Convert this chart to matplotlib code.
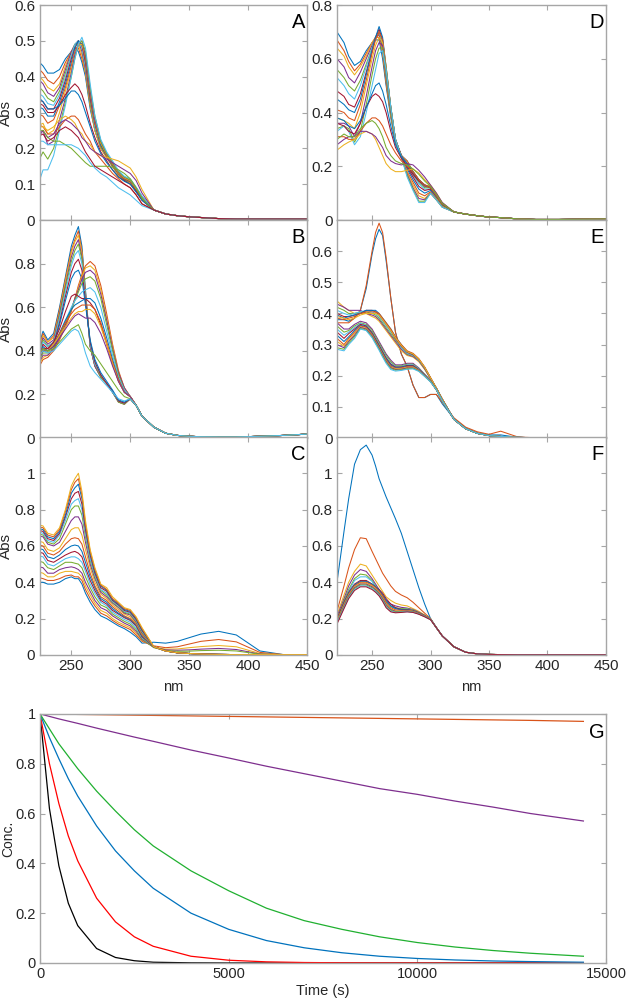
import numpy as np
import matplotlib.pyplot as plt
from matplotlib.ticker import FuncFormatter
from cycler import cycler

plt.rcParams['font.family'] = ['Liberation Sans', 'DejaVu Sans']
MATLAB_COLORS = ['#0072BD', '#D95319', '#EDB120', '#7E2F8E', '#77AC30', '#4DBEEE', '#A2142F']
plt.rcParams['axes.prop_cycle'] = cycler(color=MATLAB_COLORS)

# wavelength grid (nm): dense part up to 310, sparse tail after
WL_HEAD = [220, 226, 230, 235, 240, 245, 250, 253, 256, 259, 262, 266, 270,
           275, 280, 285, 290, 295, 300, 305, 310]
WL_TAIL = [320, 330, 340, 350, 360, 375, 390, 410, 430, 450]

# ---- panel A ----
A_SPECTRA = [
    [0.45, 0.43, 0.41, 0.41, 0.42, 0.45, 0.47, 0.48, 0.47, 0.44, 0.40, 0.31, 0.25, 0.20, 0.175, 0.15, 0.125, 0.11, 0.105, 0.08, 0.06],
    [0.43, 0.41, 0.39, 0.38, 0.40, 0.44, 0.47, 0.48, 0.48, 0.45, 0.41, 0.32, 0.25, 0.20, 0.175, 0.15, 0.125, 0.11, 0.105, 0.08, 0.06],
    [0.41, 0.39, 0.37, 0.36, 0.38, 0.43, 0.47, 0.49, 0.49, 0.46, 0.41, 0.32, 0.25, 0.20, 0.175, 0.15, 0.125, 0.11, 0.105, 0.08, 0.06],
    [0.40, 0.38, 0.355, 0.345, 0.37, 0.42, 0.47, 0.49, 0.50, 0.47, 0.42, 0.33, 0.26, 0.205, 0.178, 0.15, 0.13, 0.112, 0.107, 0.082, 0.06],
    [0.38, 0.36, 0.34, 0.33, 0.36, 0.41, 0.46, 0.49, 0.50, 0.48, 0.43, 0.33, 0.26, 0.205, 0.178, 0.15, 0.13, 0.112, 0.107, 0.082, 0.06],
    [0.36, 0.345, 0.325, 0.32, 0.35, 0.40, 0.46, 0.49, 0.50, 0.48, 0.43, 0.34, 0.26, 0.21, 0.18, 0.155, 0.13, 0.115, 0.108, 0.085, 0.062],
    [0.34, 0.33, 0.31, 0.31, 0.34, 0.39, 0.45, 0.48, 0.50, 0.49, 0.44, 0.34, 0.27, 0.21, 0.18, 0.155, 0.13, 0.115, 0.108, 0.085, 0.062],
    [0.32, 0.31, 0.29, 0.29, 0.33, 0.38, 0.44, 0.48, 0.50, 0.49, 0.45, 0.35, 0.27, 0.21, 0.18, 0.155, 0.13, 0.115, 0.11, 0.085, 0.062],
    [0.30, 0.29, 0.27, 0.28, 0.32, 0.37, 0.43, 0.47, 0.49, 0.49, 0.45, 0.35, 0.27, 0.215, 0.18, 0.155, 0.13, 0.115, 0.11, 0.085, 0.062],
    [0.26, 0.27, 0.24, 0.25, 0.30, 0.36, 0.42, 0.46, 0.49, 0.49, 0.46, 0.36, 0.28, 0.215, 0.183, 0.158, 0.132, 0.118, 0.11, 0.088, 0.064],
    [0.22, 0.25, 0.21, 0.22, 0.28, 0.34, 0.41, 0.46, 0.49, 0.50, 0.46, 0.36, 0.28, 0.22, 0.185, 0.16, 0.134, 0.12, 0.112, 0.09, 0.065],
    [0.15, 0.19, 0.17, 0.20, 0.26, 0.33, 0.40, 0.45, 0.49, 0.50, 0.47, 0.37, 0.29, 0.22, 0.185, 0.16, 0.135, 0.12, 0.112, 0.09, 0.065],
    [0.08, 0.14, 0.14, 0.18, 0.25, 0.32, 0.40, 0.45, 0.49, 0.51, 0.48, 0.38, 0.29, 0.225, 0.19, 0.165, 0.138, 0.122, 0.115, 0.092, 0.067],
    [0.33, 0.32, 0.30, 0.30, 0.32, 0.35, 0.37, 0.38, 0.37, 0.35, 0.32, 0.27, 0.23, 0.19, 0.165, 0.14, 0.12, 0.11, 0.10, 0.08, 0.055],
    [0.35, 0.33, 0.31, 0.31, 0.32, 0.34, 0.36, 0.36, 0.35, 0.33, 0.30, 0.26, 0.22, 0.185, 0.16, 0.14, 0.12, 0.108, 0.10, 0.078, 0.055],
    [0.27, 0.26, 0.24, 0.24, 0.26, 0.28, 0.29, 0.29, 0.28, 0.26, 0.24, 0.22, 0.19, 0.17, 0.15, 0.13, 0.115, 0.10, 0.09, 0.07, 0.045],
    [0.26, 0.26, 0.25, 0.26, 0.28, 0.29, 0.28, 0.27, 0.25, 0.24, 0.22, 0.21, 0.19, 0.18, 0.175, 0.17, 0.165, 0.155, 0.145, 0.12, 0.085],
    [0.24, 0.25, 0.23, 0.24, 0.27, 0.28, 0.27, 0.26, 0.25, 0.23, 0.22, 0.20, 0.19, 0.18, 0.17, 0.16, 0.15, 0.14, 0.13, 0.11, 0.075],
    [0.25, 0.25, 0.23, 0.22, 0.22, 0.21, 0.20, 0.19, 0.18, 0.17, 0.16, 0.15, 0.15, 0.15, 0.15, 0.148, 0.14, 0.13, 0.115, 0.09, 0.06],
    [0.22, 0.22, 0.21, 0.21, 0.21, 0.21, 0.21, 0.205, 0.20, 0.19, 0.18, 0.16, 0.145, 0.13, 0.12, 0.105, 0.09, 0.08, 0.07, 0.055, 0.04],
    [0.23, 0.24, 0.22, 0.23, 0.25, 0.26, 0.25, 0.24, 0.23, 0.21, 0.19, 0.17, 0.15, 0.14, 0.13, 0.12, 0.11, 0.10, 0.09, 0.07, 0.045],
]
A_TAIL = [0.028, 0.017, 0.012, 0.009, 0.007, 0.004, 0.003, 0.003, 0.003, 0.003]

# ---- panel B ----
B_SPECTRA = [
    [0.38, 0.49, 0.45, 0.48, 0.60, 0.74, 0.88, 0.93, 0.97, 0.88, 0.68, 0.42, 0.33, 0.28, 0.25, 0.21, 0.17, 0.16, 0.18, 0.15, 0.10],
    [0.37, 0.48, 0.44, 0.47, 0.59, 0.73, 0.86, 0.91, 0.95, 0.86, 0.67, 0.42, 0.33, 0.28, 0.25, 0.21, 0.17, 0.16, 0.18, 0.15, 0.10],
    [0.36, 0.47, 0.44, 0.46, 0.58, 0.72, 0.85, 0.90, 0.93, 0.85, 0.66, 0.42, 0.33, 0.28, 0.25, 0.21, 0.165, 0.155, 0.18, 0.15, 0.10],
    [0.35, 0.46, 0.43, 0.45, 0.57, 0.70, 0.83, 0.88, 0.91, 0.83, 0.65, 0.42, 0.33, 0.28, 0.25, 0.21, 0.165, 0.155, 0.18, 0.15, 0.10],
    [0.34, 0.45, 0.42, 0.44, 0.56, 0.69, 0.81, 0.86, 0.89, 0.82, 0.65, 0.43, 0.34, 0.28, 0.25, 0.21, 0.165, 0.155, 0.18, 0.15, 0.10],
    [0.33, 0.44, 0.42, 0.44, 0.55, 0.67, 0.79, 0.84, 0.86, 0.80, 0.64, 0.43, 0.34, 0.29, 0.25, 0.21, 0.17, 0.16, 0.18, 0.15, 0.10],
    [0.32, 0.43, 0.41, 0.43, 0.53, 0.65, 0.76, 0.80, 0.82, 0.77, 0.63, 0.44, 0.35, 0.29, 0.25, 0.215, 0.17, 0.16, 0.18, 0.15, 0.10],
    [0.31, 0.42, 0.40, 0.42, 0.52, 0.63, 0.73, 0.76, 0.77, 0.73, 0.61, 0.45, 0.36, 0.30, 0.26, 0.22, 0.175, 0.165, 0.18, 0.15, 0.10],
    [0.30, 0.36, 0.37, 0.40, 0.45, 0.51, 0.58, 0.64, 0.70, 0.75, 0.79, 0.81, 0.79, 0.70, 0.57, 0.43, 0.31, 0.23, 0.19, 0.15, 0.10],
    [0.31, 0.37, 0.38, 0.41, 0.46, 0.52, 0.59, 0.64, 0.69, 0.74, 0.78, 0.79, 0.77, 0.68, 0.55, 0.42, 0.30, 0.23, 0.19, 0.15, 0.10],
    [0.32, 0.38, 0.38, 0.41, 0.46, 0.52, 0.59, 0.64, 0.68, 0.73, 0.76, 0.77, 0.75, 0.66, 0.54, 0.41, 0.30, 0.23, 0.19, 0.15, 0.10],
    [0.33, 0.39, 0.39, 0.42, 0.47, 0.53, 0.59, 0.63, 0.67, 0.71, 0.73, 0.74, 0.72, 0.64, 0.52, 0.40, 0.29, 0.22, 0.19, 0.15, 0.10],
    [0.34, 0.40, 0.40, 0.43, 0.48, 0.54, 0.60, 0.63, 0.65, 0.67, 0.68, 0.69, 0.67, 0.60, 0.49, 0.38, 0.28, 0.22, 0.19, 0.15, 0.10],
    [0.35, 0.41, 0.41, 0.44, 0.50, 0.58, 0.65, 0.66, 0.65, 0.64, 0.64, 0.62, 0.59, 0.52, 0.43, 0.34, 0.26, 0.21, 0.19, 0.15, 0.10],
    [0.33, 0.40, 0.40, 0.43, 0.48, 0.54, 0.59, 0.61, 0.62, 0.63, 0.64, 0.64, 0.62, 0.55, 0.46, 0.36, 0.27, 0.21, 0.19, 0.15, 0.10],
    [0.34, 0.40, 0.40, 0.43, 0.48, 0.53, 0.57, 0.59, 0.60, 0.61, 0.61, 0.61, 0.59, 0.53, 0.44, 0.35, 0.27, 0.21, 0.19, 0.15, 0.10],
    [0.35, 0.41, 0.40, 0.43, 0.47, 0.51, 0.55, 0.57, 0.58, 0.58, 0.59, 0.59, 0.57, 0.51, 0.43, 0.34, 0.26, 0.21, 0.19, 0.15, 0.10],
    [0.36, 0.41, 0.40, 0.42, 0.46, 0.50, 0.54, 0.56, 0.57, 0.56, 0.55, 0.55, 0.53, 0.48, 0.41, 0.33, 0.26, 0.21, 0.19, 0.15, 0.10],
    [0.37, 0.41, 0.40, 0.41, 0.44, 0.47, 0.50, 0.51, 0.52, 0.48, 0.43, 0.40, 0.38, 0.34, 0.30, 0.26, 0.22, 0.19, 0.18, 0.15, 0.10],
    [0.36, 0.40, 0.39, 0.40, 0.43, 0.46, 0.49, 0.50, 0.49, 0.45, 0.39, 0.33, 0.30, 0.27, 0.24, 0.21, 0.18, 0.17, 0.18, 0.15, 0.10],
]
B_TAIL = [0.05, 0.022, 0.012, 0.008, 0.006, 0.005, 0.005, 0.008, 0.012, 0.018]

# ---- panel C ----
C_SPECTRA = [
    [0.40, 0.40, 0.39, 0.39, 0.40, 0.42, 0.43, 0.42, 0.42, 0.39, 0.34, 0.29, 0.25, 0.215, 0.20, 0.18, 0.16, 0.145, 0.125, 0.10, 0.065],
    [0.43, 0.42, 0.41, 0.41, 0.42, 0.435, 0.44, 0.43, 0.43, 0.41, 0.36, 0.31, 0.27, 0.23, 0.215, 0.19, 0.17, 0.155, 0.14, 0.11, 0.075],
    [0.46, 0.45, 0.43, 0.43, 0.45, 0.46, 0.46, 0.455, 0.45, 0.43, 0.38, 0.33, 0.285, 0.245, 0.23, 0.20, 0.18, 0.165, 0.15, 0.12, 0.08],
    [0.49, 0.48, 0.45, 0.45, 0.47, 0.48, 0.485, 0.48, 0.47, 0.45, 0.40, 0.35, 0.30, 0.26, 0.245, 0.215, 0.195, 0.175, 0.16, 0.13, 0.085],
    [0.52, 0.51, 0.48, 0.47, 0.49, 0.51, 0.51, 0.505, 0.50, 0.48, 0.43, 0.37, 0.32, 0.275, 0.26, 0.225, 0.205, 0.185, 0.17, 0.14, 0.09],
    [0.55, 0.54, 0.50, 0.49, 0.51, 0.53, 0.54, 0.54, 0.53, 0.51, 0.46, 0.39, 0.34, 0.29, 0.27, 0.235, 0.215, 0.195, 0.18, 0.15, 0.095],
    [0.57, 0.56, 0.52, 0.51, 0.53, 0.55, 0.565, 0.57, 0.56, 0.54, 0.48, 0.41, 0.355, 0.30, 0.28, 0.245, 0.225, 0.205, 0.19, 0.16, 0.10],
    [0.59, 0.58, 0.54, 0.53, 0.55, 0.58, 0.60, 0.605, 0.60, 0.57, 0.51, 0.43, 0.37, 0.31, 0.29, 0.255, 0.23, 0.21, 0.195, 0.165, 0.105],
    [0.61, 0.60, 0.56, 0.55, 0.57, 0.61, 0.64, 0.645, 0.64, 0.61, 0.54, 0.45, 0.38, 0.32, 0.30, 0.265, 0.24, 0.215, 0.20, 0.17, 0.11],
    [0.63, 0.62, 0.58, 0.57, 0.59, 0.64, 0.69, 0.70, 0.70, 0.66, 0.58, 0.48, 0.40, 0.335, 0.31, 0.275, 0.25, 0.225, 0.21, 0.175, 0.115],
    [0.66, 0.65, 0.61, 0.60, 0.62, 0.68, 0.74, 0.76, 0.76, 0.72, 0.62, 0.50, 0.42, 0.345, 0.32, 0.285, 0.26, 0.23, 0.22, 0.18, 0.12],
    [0.67, 0.66, 0.62, 0.61, 0.64, 0.72, 0.80, 0.82, 0.82, 0.77, 0.65, 0.52, 0.43, 0.355, 0.33, 0.29, 0.265, 0.235, 0.225, 0.185, 0.125],
    [0.68, 0.67, 0.63, 0.62, 0.66, 0.74, 0.83, 0.85, 0.86, 0.80, 0.67, 0.53, 0.44, 0.36, 0.34, 0.295, 0.27, 0.24, 0.23, 0.19, 0.13],
    [0.69, 0.68, 0.64, 0.63, 0.67, 0.76, 0.86, 0.89, 0.90, 0.83, 0.69, 0.55, 0.45, 0.37, 0.35, 0.30, 0.275, 0.245, 0.235, 0.195, 0.135],
    [0.70, 0.69, 0.65, 0.64, 0.68, 0.77, 0.89, 0.92, 0.94, 0.86, 0.71, 0.56, 0.46, 0.38, 0.355, 0.305, 0.28, 0.25, 0.24, 0.20, 0.14],
    [0.71, 0.70, 0.66, 0.65, 0.69, 0.79, 0.91, 0.95, 0.97, 0.88, 0.72, 0.57, 0.47, 0.385, 0.36, 0.31, 0.285, 0.255, 0.245, 0.205, 0.145],
    [0.72, 0.71, 0.67, 0.66, 0.70, 0.80, 0.93, 0.97, 1.00, 0.90, 0.74, 0.58, 0.48, 0.39, 0.37, 0.32, 0.29, 0.26, 0.25, 0.21, 0.15],
]
C_TAIL = [0.045, 0.022, 0.012, 0.008, 0.005, 0.003, 0.002, 0.002, 0.002, 0.002]
# first curves carry the band near 375 nm
C_BAND_TAILS = [
    [0.07, 0.065, 0.075, 0.095, 0.115, 0.13, 0.11, 0.022, 0.002, 0.002],
    [0.05, 0.04, 0.045, 0.06, 0.075, 0.085, 0.072, 0.014, 0.002, 0.002],
    [0.045, 0.032, 0.033, 0.04, 0.046, 0.052, 0.045, 0.008, 0.002, 0.002],
    [0.042, 0.028, 0.026, 0.028, 0.032, 0.036, 0.03, 0.005, 0.002, 0.002],
    [0.04, 0.025, 0.02, 0.021, 0.024, 0.026, 0.022, 0.004, 0.002, 0.002],
]

# ---- panel D ----
D_SPECTRA = [
    [0.70, 0.66, 0.61, 0.575, 0.59, 0.63, 0.66, 0.67, 0.67, 0.60, 0.50, 0.38, 0.29, 0.24, 0.22, 0.18, 0.15, 0.13, 0.125, 0.09, 0.06],
    [0.67, 0.63, 0.59, 0.555, 0.58, 0.62, 0.66, 0.68, 0.68, 0.62, 0.51, 0.39, 0.29, 0.24, 0.22, 0.18, 0.15, 0.13, 0.125, 0.09, 0.06],
    [0.64, 0.61, 0.57, 0.54, 0.57, 0.61, 0.66, 0.68, 0.69, 0.63, 0.52, 0.39, 0.29, 0.24, 0.215, 0.18, 0.15, 0.13, 0.125, 0.09, 0.06],
    [0.60, 0.57, 0.53, 0.51, 0.55, 0.60, 0.65, 0.68, 0.69, 0.64, 0.53, 0.40, 0.295, 0.24, 0.21, 0.175, 0.145, 0.125, 0.12, 0.09, 0.06],
    [0.56, 0.53, 0.50, 0.48, 0.52, 0.58, 0.64, 0.68, 0.70, 0.65, 0.54, 0.40, 0.295, 0.24, 0.205, 0.17, 0.14, 0.12, 0.12, 0.09, 0.06],
    [0.53, 0.50, 0.47, 0.45, 0.50, 0.57, 0.64, 0.68, 0.70, 0.66, 0.55, 0.41, 0.30, 0.24, 0.20, 0.165, 0.135, 0.115, 0.115, 0.088, 0.058],
    [0.48, 0.46, 0.43, 0.42, 0.47, 0.55, 0.63, 0.68, 0.71, 0.67, 0.56, 0.41, 0.30, 0.24, 0.195, 0.16, 0.125, 0.11, 0.115, 0.088, 0.058],
    [0.45, 0.43, 0.41, 0.40, 0.45, 0.54, 0.63, 0.68, 0.72, 0.68, 0.57, 0.42, 0.30, 0.24, 0.19, 0.15, 0.115, 0.10, 0.11, 0.085, 0.055],
    [0.41, 0.40, 0.38, 0.37, 0.43, 0.52, 0.62, 0.67, 0.70, 0.67, 0.57, 0.42, 0.30, 0.24, 0.18, 0.14, 0.10, 0.09, 0.105, 0.08, 0.052],
    [0.38, 0.37, 0.36, 0.34, 0.40, 0.50, 0.60, 0.65, 0.68, 0.66, 0.57, 0.42, 0.30, 0.235, 0.175, 0.13, 0.09, 0.08, 0.10, 0.078, 0.05],
    [0.36, 0.36, 0.35, 0.31, 0.36, 0.46, 0.57, 0.63, 0.66, 0.65, 0.56, 0.42, 0.30, 0.235, 0.17, 0.12, 0.08, 0.075, 0.10, 0.075, 0.048],
    [0.34, 0.35, 0.34, 0.29, 0.33, 0.43, 0.54, 0.60, 0.64, 0.64, 0.56, 0.42, 0.30, 0.235, 0.165, 0.115, 0.07, 0.07, 0.10, 0.075, 0.048],
    [0.33, 0.35, 0.33, 0.28, 0.31, 0.40, 0.50, 0.56, 0.62, 0.63, 0.56, 0.42, 0.30, 0.235, 0.16, 0.11, 0.065, 0.065, 0.10, 0.075, 0.048],
    [0.36, 0.35, 0.33, 0.32, 0.36, 0.42, 0.46, 0.47, 0.46, 0.44, 0.40, 0.33, 0.27, 0.23, 0.20, 0.17, 0.145, 0.13, 0.12, 0.09, 0.06],
    [0.38, 0.37, 0.35, 0.34, 0.37, 0.42, 0.47, 0.50, 0.51, 0.48, 0.43, 0.35, 0.28, 0.235, 0.21, 0.18, 0.15, 0.13, 0.12, 0.09, 0.06],
    [0.31, 0.31, 0.30, 0.30, 0.33, 0.36, 0.38, 0.38, 0.37, 0.35, 0.32, 0.28, 0.25, 0.22, 0.20, 0.18, 0.15, 0.13, 0.12, 0.09, 0.06],
    [0.26, 0.28, 0.29, 0.30, 0.32, 0.33, 0.32, 0.30, 0.27, 0.24, 0.21, 0.19, 0.18, 0.18, 0.185, 0.19, 0.175, 0.15, 0.13, 0.10, 0.065],
    [0.28, 0.30, 0.31, 0.31, 0.33, 0.33, 0.32, 0.31, 0.29, 0.27, 0.24, 0.22, 0.21, 0.205, 0.21, 0.205, 0.185, 0.16, 0.13, 0.10, 0.065],
    [0.30, 0.32, 0.31, 0.31, 0.34, 0.36, 0.37, 0.36, 0.34, 0.31, 0.27, 0.24, 0.22, 0.21, 0.205, 0.19, 0.17, 0.145, 0.125, 0.095, 0.062],
]
D_TAIL = [0.03, 0.022, 0.016, 0.011, 0.009, 0.004, 0.002, 0.002, 0.003, 0.004]

# ---- panel E ----
E_SPECTRA = [
    [0.38, 0.38, 0.375, 0.385, 0.41, 0.48, 0.59, 0.64, 0.67, 0.65, 0.57, 0.45, 0.34, 0.27, 0.23, 0.17, 0.13, 0.13, 0.14, 0.14, 0.11],
    [0.37, 0.37, 0.37, 0.385, 0.41, 0.49, 0.60, 0.66, 0.69, 0.66, 0.58, 0.45, 0.34, 0.27, 0.23, 0.17, 0.13, 0.13, 0.14, 0.14, 0.115],
    [0.44, 0.42, 0.41, 0.40, 0.40, 0.40, 0.39, 0.385, 0.375, 0.36, 0.345, 0.325, 0.305, 0.28, 0.265, 0.26, 0.245, 0.22, 0.19, 0.16, 0.125],
    [0.43, 0.42, 0.41, 0.41, 0.41, 0.40, 0.395, 0.39, 0.38, 0.365, 0.35, 0.33, 0.31, 0.285, 0.268, 0.262, 0.248, 0.222, 0.19, 0.16, 0.125],
    [0.42, 0.41, 0.40, 0.40, 0.405, 0.405, 0.40, 0.395, 0.385, 0.37, 0.355, 0.335, 0.315, 0.29, 0.27, 0.265, 0.25, 0.225, 0.192, 0.16, 0.125],
    [0.41, 0.40, 0.395, 0.40, 0.405, 0.41, 0.405, 0.40, 0.39, 0.375, 0.36, 0.34, 0.32, 0.29, 0.272, 0.266, 0.25, 0.225, 0.192, 0.16, 0.125],
    [0.40, 0.39, 0.39, 0.395, 0.40, 0.41, 0.41, 0.405, 0.395, 0.38, 0.365, 0.345, 0.32, 0.295, 0.275, 0.268, 0.252, 0.226, 0.193, 0.16, 0.125],
    [0.395, 0.385, 0.39, 0.395, 0.40, 0.41, 0.41, 0.41, 0.40, 0.385, 0.37, 0.35, 0.325, 0.30, 0.278, 0.27, 0.253, 0.227, 0.193, 0.16, 0.125],
    [0.385, 0.38, 0.385, 0.39, 0.40, 0.405, 0.405, 0.405, 0.40, 0.385, 0.37, 0.35, 0.325, 0.30, 0.28, 0.272, 0.255, 0.228, 0.194, 0.16, 0.125],
    [0.39, 0.385, 0.38, 0.385, 0.395, 0.40, 0.40, 0.40, 0.395, 0.38, 0.365, 0.345, 0.322, 0.297, 0.277, 0.27, 0.253, 0.227, 0.193, 0.16, 0.125],
    [0.37, 0.35, 0.35, 0.365, 0.375, 0.37, 0.35, 0.33, 0.31, 0.29, 0.27, 0.25, 0.235, 0.235, 0.24, 0.24, 0.225, 0.205, 0.185, 0.155, 0.12],
    [0.36, 0.34, 0.345, 0.36, 0.37, 0.365, 0.345, 0.325, 0.305, 0.285, 0.265, 0.245, 0.232, 0.232, 0.237, 0.237, 0.223, 0.204, 0.184, 0.155, 0.12],
    [0.35, 0.33, 0.34, 0.355, 0.368, 0.362, 0.34, 0.32, 0.30, 0.28, 0.26, 0.24, 0.23, 0.23, 0.235, 0.235, 0.222, 0.203, 0.184, 0.155, 0.12],
    [0.34, 0.32, 0.335, 0.35, 0.365, 0.36, 0.338, 0.318, 0.298, 0.277, 0.257, 0.237, 0.228, 0.228, 0.233, 0.233, 0.22, 0.202, 0.183, 0.155, 0.12],
    [0.33, 0.31, 0.325, 0.345, 0.362, 0.357, 0.335, 0.315, 0.295, 0.274, 0.254, 0.234, 0.226, 0.227, 0.231, 0.231, 0.219, 0.201, 0.183, 0.155, 0.12],
    [0.32, 0.30, 0.32, 0.34, 0.36, 0.355, 0.333, 0.312, 0.292, 0.271, 0.251, 0.231, 0.224, 0.225, 0.229, 0.229, 0.218, 0.20, 0.182, 0.155, 0.12],
    [0.31, 0.295, 0.315, 0.335, 0.357, 0.352, 0.33, 0.31, 0.29, 0.268, 0.248, 0.228, 0.222, 0.223, 0.227, 0.227, 0.217, 0.20, 0.182, 0.155, 0.12],
    [0.30, 0.29, 0.31, 0.33, 0.355, 0.35, 0.328, 0.308, 0.288, 0.266, 0.246, 0.226, 0.22, 0.221, 0.225, 0.225, 0.216, 0.199, 0.181, 0.155, 0.12],
    [0.29, 0.285, 0.305, 0.325, 0.352, 0.347, 0.325, 0.305, 0.285, 0.263, 0.243, 0.223, 0.218, 0.219, 0.223, 0.224, 0.215, 0.198, 0.181, 0.155, 0.12],
    [0.285, 0.28, 0.30, 0.32, 0.35, 0.345, 0.322, 0.302, 0.282, 0.26, 0.24, 0.22, 0.215, 0.217, 0.221, 0.222, 0.214, 0.198, 0.18, 0.155, 0.12],
]
E_TAIL = [0.06, 0.03, 0.015, 0.008, 0.005, 0.002, 0.001, 0.001, 0.001, 0.001]
E_SHARP_TAILS = [
    [0.062, 0.032, 0.016, 0.01, 0.01, 0.002, 0.001, 0.001, 0.001, 0.001],
    [0.065, 0.035, 0.02, 0.012, 0.022, 0.003, 0.001, 0.001, 0.001, 0.001],
]

# ---- panel F ----
F_SPECTRA = [
    [0.40, 0.68, 0.86, 1.05, 1.13, 1.155, 1.10, 1.04, 0.97, 0.92, 0.87, 0.81, 0.75, 0.67, 0.57, 0.47, 0.37, 0.28, 0.20, 0.15, 0.105],
    [0.24, 0.38, 0.48, 0.58, 0.645, 0.64, 0.57, 0.53, 0.49, 0.45, 0.42, 0.38, 0.35, 0.33, 0.315, 0.29, 0.26, 0.23, 0.20, 0.15, 0.105],
    [0.22, 0.33, 0.40, 0.46, 0.50, 0.49, 0.44, 0.41, 0.38, 0.35, 0.32, 0.30, 0.285, 0.275, 0.27, 0.255, 0.24, 0.22, 0.20, 0.15, 0.105],
    [0.21, 0.31, 0.38, 0.44, 0.47, 0.46, 0.42, 0.39, 0.36, 0.33, 0.30, 0.28, 0.27, 0.262, 0.258, 0.25, 0.235, 0.218, 0.198, 0.15, 0.105],
    [0.20, 0.30, 0.36, 0.42, 0.445, 0.44, 0.41, 0.38, 0.35, 0.32, 0.29, 0.27, 0.26, 0.255, 0.255, 0.248, 0.233, 0.217, 0.198, 0.15, 0.105],
    [0.20, 0.29, 0.35, 0.41, 0.43, 0.43, 0.405, 0.375, 0.345, 0.315, 0.285, 0.265, 0.255, 0.25, 0.252, 0.246, 0.232, 0.216, 0.197, 0.15, 0.105],
    [0.20, 0.29, 0.345, 0.39, 0.41, 0.41, 0.39, 0.375, 0.36, 0.34, 0.31, 0.28, 0.26, 0.25, 0.25, 0.245, 0.232, 0.216, 0.197, 0.15, 0.105],
    [0.19, 0.285, 0.34, 0.385, 0.405, 0.405, 0.39, 0.375, 0.355, 0.33, 0.30, 0.27, 0.255, 0.248, 0.248, 0.243, 0.23, 0.215, 0.197, 0.15, 0.105],
    [0.19, 0.28, 0.335, 0.38, 0.40, 0.40, 0.385, 0.37, 0.35, 0.325, 0.29, 0.26, 0.248, 0.245, 0.246, 0.241, 0.229, 0.214, 0.196, 0.15, 0.105],
    [0.185, 0.275, 0.33, 0.375, 0.395, 0.395, 0.38, 0.365, 0.345, 0.315, 0.28, 0.255, 0.243, 0.242, 0.244, 0.24, 0.228, 0.213, 0.196, 0.15, 0.105],
    [0.18, 0.27, 0.325, 0.37, 0.39, 0.39, 0.375, 0.36, 0.34, 0.31, 0.275, 0.25, 0.24, 0.24, 0.242, 0.238, 0.227, 0.212, 0.195, 0.15, 0.105],
    [0.18, 0.265, 0.32, 0.365, 0.385, 0.385, 0.37, 0.355, 0.335, 0.305, 0.27, 0.245, 0.237, 0.238, 0.24, 0.237, 0.226, 0.212, 0.195, 0.15, 0.105],
    [0.175, 0.26, 0.315, 0.36, 0.38, 0.38, 0.365, 0.35, 0.33, 0.30, 0.265, 0.24, 0.234, 0.236, 0.238, 0.235, 0.225, 0.211, 0.195, 0.15, 0.105],
    [0.17, 0.255, 0.31, 0.355, 0.375, 0.375, 0.36, 0.345, 0.325, 0.295, 0.26, 0.237, 0.232, 0.234, 0.237, 0.234, 0.224, 0.21, 0.194, 0.15, 0.105],
]
F_TAIL = [0.045, 0.015, 0.006, 0.003, 0.002, 0.001, 0.001, 0.001, 0.001, 0.001]

# ---- panel G: concentration vs time ----
TIME_S = [0, 250, 500, 750, 1000, 1500, 2000, 2500, 3000, 4000, 5000, 6000,
          7000, 8000, 9000, 10000, 11000, 12000, 13000, 14400]
CONC_BLACK = [1, 0.62, 0.39, 0.24, 0.15, 0.058, 0.022, 0.009, 0.003, 0.0005, 0, 0,
              0, 0, 0, 0, 0, 0, 0, 0]
CONC_RED = [1, 0.80, 0.64, 0.51, 0.41, 0.26, 0.165, 0.105, 0.067, 0.027, 0.011, 0.0045,
            0.0018, 0.0007, 0.0003, 0.0001, 0, 0, 0, 0]
CONC_BLUE = [1, 0.905, 0.82, 0.74, 0.67, 0.55, 0.45, 0.37, 0.30, 0.20, 0.135, 0.09,
             0.061, 0.041, 0.027, 0.018, 0.012, 0.008, 0.0055, 0.003]
CONC_GREEN = [1, 0.94, 0.88, 0.83, 0.78, 0.69, 0.61, 0.535, 0.47, 0.37, 0.29, 0.22,
              0.17, 0.135, 0.105, 0.082, 0.064, 0.05, 0.039, 0.027]
CONC_PURPLE = [1, 0.99, 0.98, 0.971, 0.962, 0.943, 0.925, 0.907, 0.89, 0.855, 0.823, 0.79,
               0.76, 0.73, 0.70, 0.677, 0.65, 0.626, 0.60, 0.57]
CONC_ORANGE = [1, 1, 0.999, 0.999, 0.998, 0.997, 0.996, 0.995, 0.994, 0.992, 0.99, 0.988,
               0.986, 0.984, 0.982, 0.98, 0.978, 0.976, 0.974, 0.97]

SPINE = '#a6a6a6'
TXT = '#262626'
fmt = FuncFormatter(lambda v, p: f'{v:g}')


def style(ax, xlim, ylim, yticks, letter, xlabels=False, ylabel=None):
    ax.set_xlim(*xlim)
    ax.set_ylim(*ylim)
    ax.set_yticks(yticks)
    ax.set_xticks([250, 300, 350, 400, 450])
    ax.yaxis.set_major_formatter(fmt)
    for s in ax.spines.values():
        s.set_color(SPINE)
        s.set_linewidth(1.0)
    ax.tick_params(direction='in', length=3.5, width=0.8, color=SPINE,
                   top=True, right=True, labelsize=11, labelcolor=TXT, pad=3)
    if not xlabels:
        ax.tick_params(labelbottom=False)
    else:
        ax.set_xlabel('nm', fontsize=10.5, color=TXT, labelpad=5)
    if ylabel:
        ax.set_ylabel(ylabel, fontsize=11, color=TXT, labelpad=1)
    ax.text(0.993, 0.965, letter, transform=ax.transAxes, ha='right', va='top',
            fontsize=14.5, color='black')


def draw(ax, spectra, tail, special=()):
    wl = WL_HEAD + WL_TAIL
    for i, head in enumerate(spectra):
        t = special[i] if i < len(special) else tail
        ax.plot(wl, head + t, lw=0.75)


fig = plt.figure(figsize=(6.32, 10.01), dpi=100)

L_LEFT, L_W = 0.0625, 0.4233
R_LEFT, R_W = 0.5332, 0.4256
ROWS = [(0.7802, 0.2148), (0.5624, 0.2178), (0.3457, 0.2178)]

axA = fig.add_axes([L_LEFT, ROWS[0][0], L_W, ROWS[0][1]])
draw(axA, A_SPECTRA, A_TAIL)
style(axA, (223, 450), (0, 0.6), np.arange(0, 0.61, 0.1), 'A', ylabel='Abs')

axB = fig.add_axes([L_LEFT, ROWS[1][0], L_W, ROWS[1][1]])
draw(axB, B_SPECTRA, B_TAIL)
style(axB, (223, 450), (0, 1.0), np.arange(0, 0.81, 0.2), 'B', ylabel='Abs')

axC = fig.add_axes([L_LEFT, ROWS[2][0], L_W, ROWS[2][1]])
draw(axC, C_SPECTRA, C_TAIL, C_BAND_TAILS)
style(axC, (223, 450), (0, 1.2), np.arange(0, 1.01, 0.2), 'C', xlabels=True, ylabel='Abs')

axD = fig.add_axes([R_LEFT, ROWS[0][0], R_W, ROWS[0][1]])
draw(axD, D_SPECTRA, D_TAIL)
style(axD, (220, 450), (0, 0.8), np.arange(0, 0.81, 0.2), 'D')

axE = fig.add_axes([R_LEFT, ROWS[1][0], R_W, ROWS[1][1]])
draw(axE, E_SPECTRA, E_TAIL, E_SHARP_TAILS)
style(axE, (220, 450), (0, 0.7), np.arange(0, 0.61, 0.1), 'E')

axF = fig.add_axes([R_LEFT, ROWS[2][0], R_W, ROWS[2][1]])
draw(axF, F_SPECTRA, F_TAIL)
style(axF, (220, 450), (0, 1.2), np.arange(0, 1.01, 0.2), 'F', xlabels=True)

# kinetics panel
axG = fig.add_axes([0.0633, 0.0380, 0.8956, 0.2488])
axG.plot(TIME_S, CONC_BLACK, color='black', lw=0.9)
axG.plot(TIME_S, CONC_RED, color='#ff0000', lw=0.9)
axG.plot(TIME_S, CONC_BLUE, color='#0072BD', lw=0.9)
axG.plot(TIME_S, CONC_GREEN, color='#20b030', lw=0.9)
axG.plot(TIME_S, CONC_PURPLE, color='#7E2F8E', lw=0.9)
axG.plot(TIME_S, CONC_ORANGE, color='#D95319', lw=0.9)
axG.set_xlim(0, 15000)
axG.set_ylim(0, 1)
axG.set_xticks([0, 5000, 10000, 15000])
axG.set_yticks(np.arange(0, 1.01, 0.2))
axG.yaxis.set_major_formatter(fmt)
for s in axG.spines.values():
    s.set_color(SPINE)
    s.set_linewidth(1.0)
axG.tick_params(direction='in', length=3.5, width=0.8, color=SPINE,
                top=True, right=True, labelsize=10.5, labelcolor=TXT, pad=3)
axG.set_xlabel('Time (s)', fontsize=10.5, color=TXT, labelpad=2)
axG.set_ylabel('Conc.', fontsize=10, color=TXT, labelpad=0)
axG.text(0.998, 0.962, 'G', transform=axG.transAxes, ha='right', va='top',
         fontsize=14.5, color='black')

fig.savefig('out.png', dpi=100)
